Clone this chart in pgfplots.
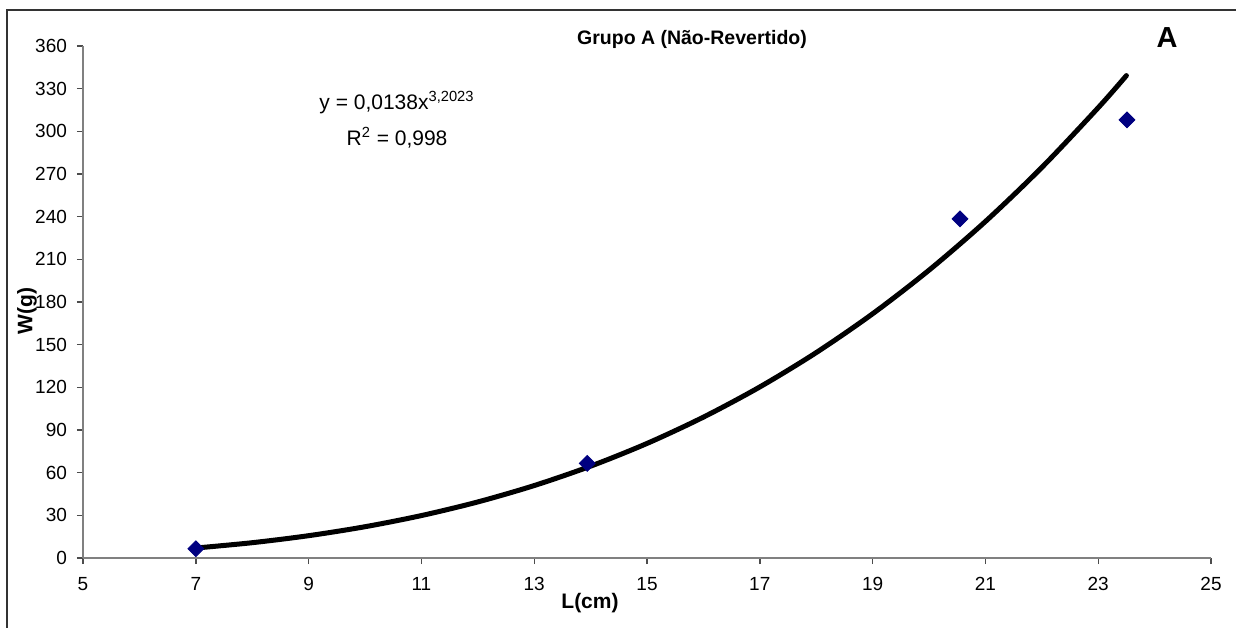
\documentclass[border=0pt]{standalone}
\usepackage{fontspec}
\setmainfont{Liberation Sans}
\usepackage{pgfplots}
\pgfplotsset{compat=1.18}
\definecolor{axgray}{RGB}{128,128,128}
\definecolor{navy}{RGB}{0,0,128}
\begin{document}
\begin{tikzpicture}[x=1pt,y=1pt]
\useasboundingbox (0,0) rectangle (618,313.5);
\draw[line width=0.8pt, black!80] (3.5,-5) -- (3.5,308.5) -- (630,308.5);
\begin{axis}[
  at={(41.5pt,34.5pt)}, anchor=south west,
  scale only axis, width=564pt, height=256pt,
  xmin=5, xmax=25, ymin=0, ymax=360,
  xtick={5,7,...,25}, ytick={0,30,...,360},
  axis lines=left, axis line style={axgray, line width=1pt, -},
  tick style={axgray, line width=0.7pt, black!70},
  tick align=outside, major tick length=3pt,
  /pgf/number format/assume math mode=true,
  ticklabel style={font=\fontsize{9.5}{11}\selectfont},
  yticklabel style={xshift=-1.5pt},
  xticklabel style={yshift=-3pt},
  clip=false,
]
\addplot[black, line width=2.5pt, smooth, line cap=round] coordinates {
(7,7.02) (8,10.76) (9,15.69) (10,21.99) (11,29.84) (12,39.42) (13,50.94)
(14,64.58) (15,80.55) (16,99.05) (17,120.27) (18,144.42) (19,171.72)
(20,202.38) (21,236.60) (22,274.61) (23,316.62) (23.5,339.2)};
\addplot[only marks, mark=square*, mark size=2.8pt, mark options={rotate=45, fill=navy, draw=navy}, color=navy] coordinates {
(7.0,6.5) (13.94,66.5) (20.55,238.5) (23.51,308)};
\end{axis}
\node[font=\fontsize{9.75}{12}\selectfont\bfseries] at (346,294) {Grupo A (Não-Revertido)};
\node[font=\fontsize{14.5}{17}\selectfont\bfseries] at (583.5,294.5) {A};
\node[font=\fontsize{10.5}{12}\selectfont] at (198.5,262) {y = 0,0138x\textsuperscript{3,2023}};
\node[font=\fontsize{10.5}{12}\selectfont] at (198.5,244.5) {R\textsuperscript{2} = 0,998};
\node[font=\fontsize{10.5}{12}\selectfont\bfseries] at (295,12) {L(cm)};
\node[font=\fontsize{10.5}{12}\selectfont\bfseries, rotate=90] at (13.5,158) {W(g)};
\end{tikzpicture}
\end{document}
